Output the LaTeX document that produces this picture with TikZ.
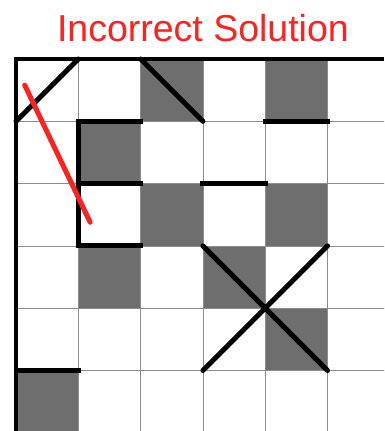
\documentclass[tikz,border=0pt]{standalone}
\usepackage{fontspec}
\setmainfont{Liberation Sans}
\definecolor{cellgray}{HTML}{6E6E6E}
\definecolor{gridgray}{HTML}{8C8C8C}
\definecolor{markred}{HTML}{FF2020}
\begin{document}
\begin{tikzpicture}[
	x=62.3pt, y=-62.3pt,
	% Define the styles for the board
	gridline/.style={gridgray, line width=0.8pt},
	wall/.style={line width=5pt, black, line cap=rect},
	border/.style={line width=3.5pt, black},
	strike/.style={markred, line width=5pt, line cap=round}
	]
	
	\useasboundingbox (-0.257,-0.947) rectangle (5.907,5.971);
	
	% --- TITLE ---
	\node (title) at (3.0,-0.5) [markred, font=\fontsize{37.5}{42}\selectfont] {Incorrect Solution};
	
	% --- SHADED CELLS ---
	% Format: col/row of the top left corner
	\foreach \c/\r in {2/0, 4/0, 1/1, 2/2, 4/2, 1/3, 3/3, 4/4, 0/5}
		\fill[cellgray] (\c,\r) rectangle ++(1,1);
	
	% --- GRID ---
	\begin{scope}
		\clip (0,0) rectangle (5.907,5.971);
		\foreach \i in {1,...,5} {
			\draw[gridline] (\i,0) -- (\i,6);
			\draw[gridline] (0,\i) -- (6,\i);
		}
	\end{scope}
	
	% --- WALLS ---
	\draw[border] (5.907,0) -- (0,0) -- (0,5.971); % Top and left edge
	\draw[wall, line cap=round] (0,1) -- (1,0); % Corner diagonal
	\draw[wall, line cap=round] (2,0) -- (3,1);
	\draw[wall] (4,1) -- (5,1);
	\draw[wall] (2,1) -- (1,1) -- (1,3) -- (2,3); % The E shape
	\draw[wall] (1,2) -- (2,2);
	\draw[wall] (3,2) -- (4,2);
	\draw[wall, line cap=round] (3,3) -- (5,5); % Cross
	\draw[wall, line cap=round] (5,3) -- (3,5);
	\draw[wall] (0,5) -- (1,5);
	
	% --- STRIKE ---
	\coordinate (s1) at (0.14,0.42);
	\coordinate (s2) at (1.19,2.62);
	\draw[strike] (s1) -- (s2);
	
\end{tikzpicture}
\end{document}
